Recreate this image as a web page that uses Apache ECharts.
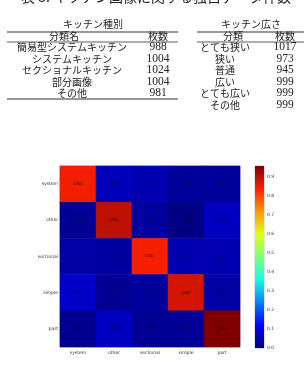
<!DOCTYPE html>
<html>
<head>
<meta charset="utf-8">
<script src="https://cdn.jsdelivr.net/npm/echarts@6/dist/echarts.min.js"></script>
<style>
  html, body { margin: 0; padding: 0; background: #fff; }
  #chart { width: 304px; height: 385px; }
</style>
</head>
<body>
<div id="chart"></div>
<script>
const captionText = '表 3: キッチン画像に関する独自データ件数';

const typeHeader = 'キッチン種別';
const typeColumns = ['分類名', '枚数'];
const kitchenTypes = ['簡易型システムキッチン', 'システムキッチン', 'セクショナルキッチン', '部分画像', 'その他'];
const kitchenTypeCounts = [988, 1004, 1024, 1004, 981];

const sizeHeader = 'キッチン広さ';
const sizeColumns = ['分類', '枚数'];
const kitchenSizes = ['とても狭い', '狭い', '普通', '広い', 'とても広い', 'その他'];
const kitchenSizeCounts = [1017, 973, 945, 999, 999, 999];

// confusion matrix (rows = true class, cols = predicted)
const classes = ['system', 'other', 'sectional', 'simple', 'part'];
const matrix = [
  [0.850, 0.055, 0.045, 0.025, 0.025],
  [0.020, 0.900, 0.030, 0.005, 0.060],
  [0.035, 0.030, 0.847, 0.045, 0.045],
  [0.070, 0.020, 0.025, 0.880, 0.035],
  [0.015, 0.060, 0.020, 0.022, 0.958]
];
const colorMax = 0.958;
const colorTicks = [0, 0.1, 0.2, 0.3, 0.4, 0.5, 0.6, 0.7, 0.8, 0.9];

const jet = ['#000080', '#0000ff', '#0080ff', '#14ffe2', '#7bff7b', '#e2ff14', '#ff9700', '#ff2100', '#800000'];

const heatData = [];
matrix.forEach((row, i) => {
  row.forEach((v, j) => heatData.push([j, i, v]));
});

const jpFont = '"Noto Sans CJK JP", sans-serif';
const numFont = '"Liberation Serif", "DejaVu Serif", serif';

function txt(x, y, text, size, family) {
  return {
    type: 'text', x: x, y: y, silent: true,
    style: { text: String(text), fill: '#222', font: size + 'px ' + family, textAlign: 'center', textVerticalAlign: 'middle' }
  };
}
function rule(x1, x2, y, w) {
  return { type: 'line', silent: true, shape: { x1: x1, y1: y, x2: x2, y2: y }, style: { stroke: '#333', lineWidth: w } };
}

const rowY = [47, 59, 70, 82, 93, 105];
const graphics = [txt(156, -3, captionText, 14, jpFont)];

// left table
graphics.push(txt(93, 24, typeHeader, 10, jpFont));
graphics.push(rule(7, 178, 32, 1.2));
graphics.push(txt(64, 36, typeColumns[0], 10, jpFont));
graphics.push(txt(158, 36, typeColumns[1], 10, jpFont));
graphics.push(rule(7, 178, 42, 0.8));
kitchenTypes.forEach((name, i) => {
  graphics.push(txt(72, rowY[i], name, 10, jpFont));
  graphics.push(txt(158, rowY[i], kitchenTypeCounts[i], 11.5, numFont));
});
graphics.push(rule(7, 178, 99, 1.2));

// right table
graphics.push(txt(251, 24, sizeHeader, 10, jpFont));
graphics.push(rule(197, 304, 32, 1.2));
graphics.push(txt(233, 36, sizeColumns[0], 10, jpFont));
graphics.push(txt(285, 36, sizeColumns[1], 10, jpFont));
graphics.push(rule(197, 304, 42, 0.8));
kitchenSizes.forEach((name, i) => {
  graphics.push(txt(225, rowY[i], name, 10, jpFont));
  graphics.push(txt(285, rowY[i], kitchenSizeCounts[i], 11.5, numFont));
});

const chart = echarts.init(document.getElementById('chart'));

const option = {
  animation: false,
  graphic: graphics,
  grid: [
    { left: 60, top: 166, width: 180, height: 181, show: true, borderColor: '#6a6ad8', borderWidth: 0.6, backgroundColor: 'transparent' },
    { left: 255, top: 166, width: 9, height: 182, show: true, borderColor: '#777', borderWidth: 0.4, backgroundColor: 'transparent' }
  ],
  xAxis: [
    {
      type: 'category', gridIndex: 0, data: classes, position: 'bottom',
      axisLine: { show: false }, axisTick: { show: false }, splitLine: { show: false },
      axisLabel: { fontSize: 4.5, color: '#333', margin: 3, fontFamily: 'DejaVu Sans' }
    },
    { type: 'category', gridIndex: 1, data: [''], show: false }
  ],
  yAxis: [
    {
      type: 'category', gridIndex: 0, data: classes, inverse: true,
      axisLine: { show: false }, axisTick: { show: false }, splitLine: { show: false },
      axisLabel: { fontSize: 4.5, color: '#333', margin: 2, fontFamily: 'DejaVu Sans' }
    },
    {
      type: 'value', gridIndex: 1, min: 0, max: colorMax, position: 'right',
      axisLine: { show: false }, splitLine: { show: false },
      axisTick: { show: true, length: 1.5, inside: true, customValues: colorTicks, lineStyle: { color: '#555', width: 0.4 } },
      axisLabel: { fontSize: 4.5, color: '#333', margin: 3, fontFamily: 'DejaVu Sans', customValues: colorTicks, formatter: v => v.toFixed(1) }
    }
  ],
  visualMap: {
    show: false, type: 'continuous', min: 0, max: colorMax, dimension: 2, seriesIndex: 0,
    inRange: { color: jet }
  },
  series: [
    {
      type: 'heatmap', xAxisIndex: 0, yAxisIndex: 0, data: heatData,
      label: { show: true, fontSize: 3.5, color: '#111', formatter: p => p.value[2].toFixed(3) },
      itemStyle: { borderWidth: 0 }
    },
    {
      type: 'bar', xAxisIndex: 1, yAxisIndex: 1, barWidth: '100%', silent: true,
      data: [colorMax],
      itemStyle: {
        color: new echarts.graphic.LinearGradient(0, 1, 0, 0,
          jet.map((c, i) => ({ offset: i / (jet.length - 1), color: c })))
      }
    }
  ]
};

chart.setOption(option);
</script>
</body>
</html>
